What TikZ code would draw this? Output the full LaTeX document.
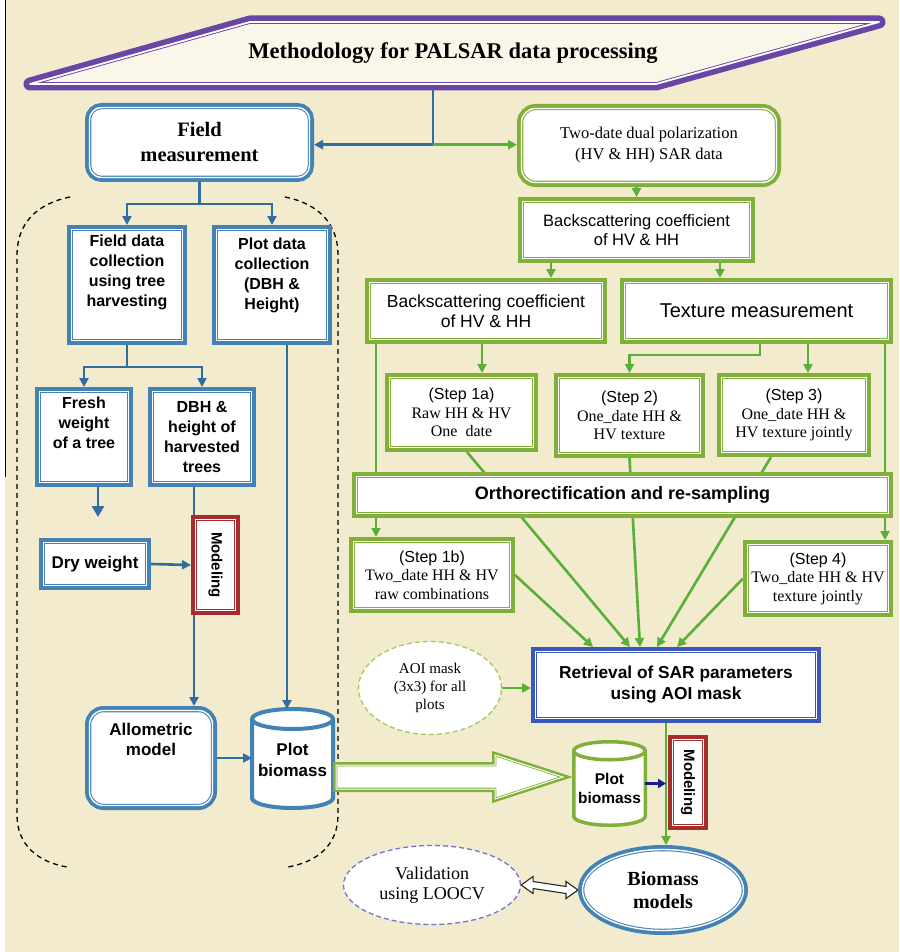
\documentclass[tikz,border=0pt]{standalone}
\usepackage{fontspec}
\setmainfont{Liberation Serif}
\setsansfont{Liberation Sans}
\usetikzlibrary{arrows.meta,calc,shapes.geometric}
\pgfdeclarelayer{bg}
\pgfdeclarelayer{lines}
\pgfsetlayers{bg,lines,main}
\definecolor{cbg}{RGB}{243,235,205}
\definecolor{cblue}{RGB}{66,130,180}
\definecolor{cbline}{RGB}{48,108,158}
\definecolor{cgreen}{RGB}{128,176,58}
\definecolor{cgarr}{RGB}{88,176,56}
\definecolor{cred}{RGB}{165,45,45}
\definecolor{cpurp}{RGB}{105,70,165}
\definecolor{cret}{RGB}{58,88,185}
\definecolor{caoi}{RGB}{165,200,90}
\definecolor{cval}{RGB}{115,115,210}
\definecolor{cdark}{RGB}{25,25,150}
\definecolor{cban}{RGB}{250,247,234}
\newcommand\fsz[2]{\fontsize{#1}{#2}\selectfont}
\newcommand\liftt[2]{\raisebox{#1}[0pt][0pt]{\begin{tabular}{@{}c@{}}#2\end{tabular}}}
\begin{document}
\begin{tikzpicture}[x=1pt,y=-1pt,
  dbl/.style={preaction={draw=#1,line width=9pt,fill=none}, draw=#1, line width=3.5pt,
    postaction={draw=white,line width=1.4pt,fill=none}, fill=white, outer sep=4.5pt,
    inner sep=1pt, align=center},
  bsans/.style={font=\sffamily\bfseries\fsz{16}{20}},
  stepbox/.style={dbl=cgreen, font=\rmfamily\fsz{16}{18.5}},
  modbox/.style={dbl=cred, font=\sffamily\bfseries\fsz{15}{18}},
  cylnode/.style={inner sep=0pt, outer sep=0pt, align=center},
  bline/.style={draw=cbline, line width=2.6pt},
  barrow/.style={bline, -{Triangle[length=9pt,width=9pt]}},
  gline/.style={draw=cgarr, line width=2.6pt},
  garrow/.style={gline, -{Triangle[length=9pt,width=9pt]}},
  darrow/.style={draw=cdark, line width=2.4pt, -{Triangle[length=8pt,width=9pt]}},
  dbhollow/.style={draw=black!85, line width=1.1pt, fill=white, line join=miter},
  dreg/.style={draw=black, line width=1.3pt, dash pattern=on 5pt off 4pt},
  dell/.style={ellipse, fill=white, line width=1.3pt, dash pattern=on 5pt off 3pt, inner sep=0pt, align=center, outer sep=0.6pt},
  cylb/.style={draw=cblue, line width=4pt, fill=white},
  cylg/.style={draw=cgreen, line width=3.5pt, fill=white},
  hollow/.style={preaction={draw=cgreen,line width=6pt,fill=none}, draw=cgreen, line width=2.6pt,
    postaction={draw=white,line width=1pt,fill=none}, fill=white, line join=miter},
  banshape/.style={preaction={draw=cpurp,line width=13pt,fill=none,line join=round}, draw=cpurp, line width=3.6pt,
    postaction={draw=white,line width=1.8pt,fill=none}, fill=cban, line join=round},
]
\useasboundingbox (0,0) rectangle (899,952);
\begin{pgfonlayer}{bg}
\fill[cbg] (0,0) rectangle (899,952);
\fill[white] (0,0) rectangle (5,952);
\draw[black, line width=1.3pt] (5.5,0) -- (5.5,477);
\end{pgfonlayer}

% banner
\draw[banshape] (30,84) -- (250,22) -- (879,22) -- (656,84) -- cycle;
\node[inner sep=0pt, minimum height=71, minimum width=400, font=\bfseries\fsz{22.5}{26}] (banner) at (453,53) {Methodology for PALSAR data processing};

% left column
\node[dbl=cblue, rounded corners=12pt, minimum width=220, minimum height=70, font=\bfseries\fsz{20.5}{25}] (fm) at (199.5,142.5) {Field\\measurement};
\node[dbl=cblue, bsans, minimum width=111, minimum height=111] (fd) at (127,285) {\liftt{8pt}{Field data\\collection\\using tree\\harvesting}};
\node[dbl=cblue, bsans, minimum width=111, minimum height=111] (pd) at (272,285) {\liftt{5pt}{Plot data\\collection\\(DBH \&\\Height)}};
\node[dbl=cblue, bsans, minimum width=89, minimum height=91] (fw) at (84,437) {\liftt{8pt}{Fresh\\weight\\of a tree}};
\node[dbl=cblue, bsans, minimum width=99, minimum height=91] (dbh) at (202,437) {DBH \&\\height of\\harvested\\trees};
\node[dbl=cblue, font=\sffamily\bfseries\fsz{17}{20}, minimum width=103, minimum height=43] (dw) at (95,564) {Dry weight};
\node[modbox, minimum width=40, minimum height=91] (mod1) at (215.5,565) {\rotatebox{-90}{Modeling}};
\node[dbl=cblue, rounded corners=14pt, font=\sffamily\bfseries\fsz{17}{20}, minimum width=123, minimum height=95] (am) at (151,758) {\liftt{12pt}{Allometric\\model}};
\node[cylnode, minimum width=81, minimum height=99, font=\sffamily\bfseries\fsz{17}{21}] (pb) at (292.5,758.5) {\liftt{-8pt}{Plot\\biomass}};

% right column
\node[dbl=cgreen, rounded corners=14pt, minimum width=255, minimum height=74, font=\rmfamily\fsz{16.5}{21}] (td) at (649,145.5) {Two-date dual polarization\\(HV \& HH) SAR data};
\node[dbl=cgreen, minimum width=228, minimum height=57, font=\sffamily\fsz{16.5}{19}] (bs1) at (636.5,230) {Backscattering coefficient\\of HV \& HH};
\node[dbl=cgreen, minimum width=233, minimum height=57, font=\sffamily\fsz{17.5}{20}] (bs2) at (486,311) {Backscattering coefficient\\of HV \& HH};
\node[dbl=cgreen, minimum width=264, minimum height=57, font=\sffamily\fsz{20}{22}] (tm) at (756.5,311) {Texture measurement};
\node[stepbox, minimum width=144, minimum height=70] (s1a) at (461.5,412.5) {{\sffamily (Step 1a)}\\Raw HH \& HV\\One~ date};
\node[stepbox, minimum width=142, minimum height=76] (s2) at (629.5,415.5) {{\sffamily (Step 2)}\\One\_date HH \&\\HV texture};
\node[stepbox, minimum width=145, minimum height=75] (s3) at (794,415) {{\sffamily (Step 3)}\\One\_date HH \&\\HV texture jointly};
\node[dbl=cgreen, minimum width=532, minimum height=37, font=\sffamily\bfseries\fsz{18}{20}] (or) at (622.5,495) {Orthorectification and re-sampling};
\node[stepbox, minimum width=157, minimum height=67] (s1b) at (432,575) {{\sffamily (Step 1b)}\\Two\_date HH \& HV\\raw combinations};
\node[stepbox, minimum width=141, minimum height=68] (s4) at (818,578.5) {{\sffamily (Step 4)}\\Two\_date HH \& HV\\texture jointly};
\node[dbl=cret, minimum width=281, minimum height=67, font=\sffamily\bfseries\fsz{17.3}{21}] (ret) at (676,685) {Retrieval of SAR parameters\\using AOI mask};
\node[dell, draw=caoi, minimum width=143, minimum height=93, font=\rmfamily\fsz{15}{18}] (aoi) at (430,688) {AOI mask\\(3x3) for all\\plots};
\node[cylnode, minimum width=71.5, minimum height=83.5, font=\sffamily\bfseries\fsz{15.5}{19}] (gpb) at (609.5,783.5) {\liftt{-10pt}{Plot\\biomass}};
\node[modbox, minimum width=31, minimum height=86] (mod2) at (688,782.5) {\rotatebox{-90}{Modeling}};
\node[dbl=cblue, ellipse, minimum width=161, minimum height=81, font=\bfseries\fsz{20}{23}] (bm) at (663,890) {Biomass\\models};
\node[dell, draw=cval, minimum width=177, minimum height=79, font=\rmfamily\fsz{18}{20}] (val) at (432,885) {Validation\\using LOOCV};

\begin{pgfonlayer}{lines}
% dashed field region
\draw[dreg] (70,197) .. controls (35,204) and (17,225) .. (17,255) -- (17,815) .. controls (17,845) and (38,862) .. (67,867);
\draw[dreg] (285,197) .. controls (320,204) and (338,225) .. (338,255) -- (338,815) .. controls (338,845) and (317,862) .. (288,867);
% cylinders
\draw[cylb] ([yshift=-10pt]pb.north west) -- ([yshift=10pt]pb.south west)
  arc[start angle=180, end angle=360, x radius=40.5pt, y radius=10pt]
  -- ([yshift=-10pt]pb.north east)
  arc[start angle=0, end angle=180, x radius=40.5pt, y radius=10pt] -- cycle;
\draw[cylb, fill=none] ([yshift=-10pt]pb.north west) arc[start angle=180, end angle=360, x radius=40.5pt, y radius=10pt];
\draw[cylg] ([yshift=-9pt]gpb.north west) -- ([yshift=9pt]gpb.south west)
  arc[start angle=180, end angle=360, x radius=35.75pt, y radius=9pt]
  -- ([yshift=-9pt]gpb.north east)
  arc[start angle=0, end angle=180, x radius=35.75pt, y radius=9pt] -- cycle;
\draw[cylg, fill=none] ([yshift=-9pt]gpb.north west) arc[start angle=180, end angle=360, x radius=35.75pt, y radius=9pt];

% banner connectors
\draw[bline] ([xshift=-20pt]banner.south) -- ++(0,56) coordinate (j);
\draw[barrow] (j) -- (fm.east |- j);
\draw[garrow] (j) -- (td.west |- j);
% left connectors
\draw[barrow] (fm.south) -- ++(0,22) -| (fd.north);
\draw[barrow] (fm.south) -- ++(0,22) -| (pd.north);
\draw[barrow] (fd.south) -- ++(0,22) -| (fw.north);
\draw[barrow] (fd.south) -- ++(0,22) -| (dbh.north);
\coordinate (fwend) at (98,517);
\draw[bline, -{Triangle[length=11pt,width=12pt]}] (fw.south -| fwend) -- (fwend);
\draw[barrow] (dw.east) -- (mod1.west);
\coordinate (mx) at ([xshift=3pt]mod1.north west);
\draw[bline] (mx |- dbh.south) -- (mx);
\coordinate (mx2) at ([xshift=3pt]mod1.south west);
\draw[barrow] (mx2) -- (mx2 |- am.north);
\coordinate (pbin) at ([xshift=-5.5pt]pb.north);
\draw[barrow] (pbin |- pd.south) -- (pbin);
\draw[barrow] (am.east) -- (am.east -| pb.west);
% big hollow arrow
\path (pb.east) ++(3,6.5) coordinate (h1);
\draw[hollow] (h1) -- ++(159,0) -- ++(0,-10) -- ++(68,22) -- ++(-68,22) -- ++(0,-10) -- ++(-159,0) -- cycle;
% right connectors
\draw[garrow] (td.south -| bs1.north) -- (bs1.north);
\coordinate (b1) at ([xshift=-85.5pt]bs1.south);
\draw[garrow] (b1) -- (b1 |- bs2.north);
\coordinate (b2) at ([xshift=83.5pt]bs1.south);
\draw[garrow] (b2) -- (b2 |- tm.north);
\coordinate (c1) at ([xshift=-4pt]bs2.south);
\draw[garrow] (c1) -- (c1 |- s1a.north);
\coordinate (c2) at ([xshift=-110pt]bs2.south);
\draw[garrow] (c2) -- (c2 |- s1b.north);
\coordinate (t1) at ([xshift=3.5pt]tm.south);
\draw[garrow] (t1) -- ++(0,11) -| (s2.north);
\coordinate (t2) at ([xshift=51.5pt]tm.south);
\draw[garrow] (t2) -- (t2 |- s3.north);
\coordinate (t3) at ([xshift=128.5pt]tm.south);
\draw[garrow] (t3) -- (t3 |- s4.north);
\draw[garrow] ([xshift=5.5pt]s1a.south) -- ([xshift=-46pt]ret.north);
\draw[garrow] (s2.south) -- ([xshift=-36pt]ret.north);
\draw[garrow] ([xshift=-23pt]s3.south) -- ([xshift=-19pt]ret.north);
\draw[garrow] (s1b.east) -- ([xshift=-83pt]ret.north);
\draw[garrow] (s4.west) -- ([xshift=1pt]ret.north);
\draw[garrow] (aoi.east) -- (aoi.east -| ret.west);
\coordinate (r1) at ([xshift=-10pt]ret.south);
\draw[garrow] (r1) -- (r1 |- bm.north);
\draw[darrow] (gpb.east) -- (gpb.east -| r1);
% validation <-> biomass models
\coordinate (v1) at (val.east);
\coordinate (v2) at (bm.west);
\draw[dbhollow] (v1) -- ($(v1)+(12,-8.5)$) -- ($(v1)+(12,-3.5)$) -- ($(v2)+(-12,-3.5)$) -- ($(v2)+(-12,-8.5)$)
  -- (v2) -- ($(v2)+(-12,8.5)$) -- ($(v2)+(-12,3.5)$) -- ($(v1)+(12,3.5)$) -- ($(v1)+(12,8.5)$) -- cycle;
\end{pgfonlayer}
\end{tikzpicture}
\end{document}
